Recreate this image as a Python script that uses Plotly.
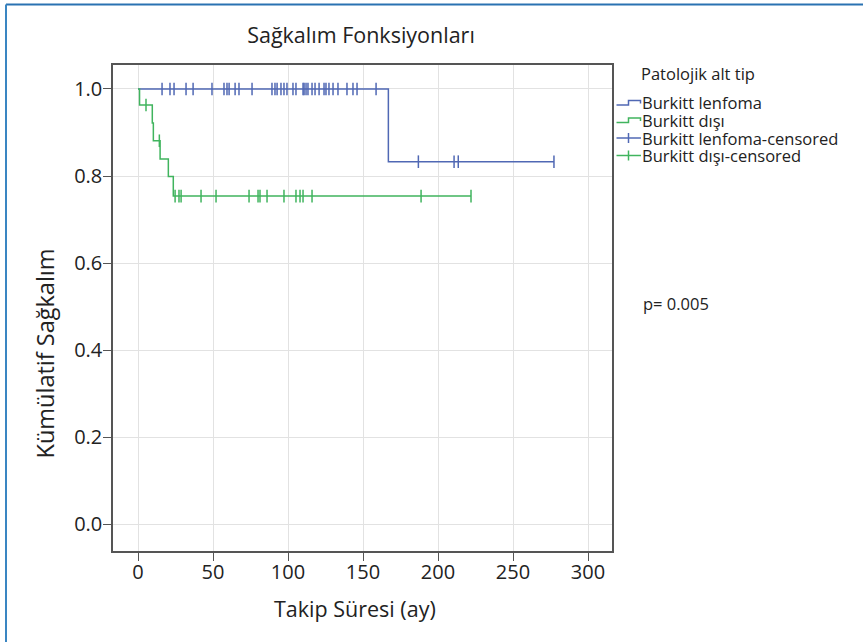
import plotly.graph_objects as go

# ---- data ----
blue_step_t = [0, 166.9, 277.3]
blue_step_s = [1.0, 0.833, 0.833]
blue_cens_t = [16, 21.3, 24, 32, 36.7, 49.3, 57.3, 59.3, 60.7, 64.7, 67.3, 76,
               89.3, 91.3, 92.7, 95.3, 97.3, 99.3, 103.3, 105.3, 110, 110.7, 112,
               113.3, 116, 118, 120.7, 124, 125.3, 127.3, 130, 133.3, 139.3,
               143.3, 146, 158.7, 186.9, 210.7, 213.5, 277.3]
blue_cens_s = [1.0] * 36 + [0.833] * 4

green_step_t = [0, 1.0, 9.5, 10.2, 14.7, 20.2, 23.5, 222]
green_step_s = [1.0, 0.963, 0.922, 0.881, 0.839, 0.799, 0.754, 0.754]
green_cens_t = [5.3, 14.2, 24.7, 27.3, 28.7, 42, 52, 74, 80, 81.3, 86, 97.3,
                105.3, 108, 110, 116, 188.7, 222]
green_cens_s = [0.963, 0.881] + [0.754] * 16

x_ticks = [0, 50, 100, 150, 200, 250, 300]
y_ticks = [0.0, 0.2, 0.4, 0.6, 0.8, 1.0]
y_tick_labels = ["0.0", "0.2", "0.4", "0.6", "0.8", "1.0"]

legend_title = "Patolojik alt tip"
legend_names = ["Burkitt lenfoma", "Burkitt dışı",
                "Burkitt lenfoma-censored", "Burkitt dışı-censored"]

BLUE = "#5068b4"
GREEN = "#40b45e"
FONT = "Open Sans"
TXT = "#222222"

fig = go.Figure()
fig.add_trace(go.Scatter(x=blue_step_t, y=blue_step_s, mode="lines",
                         line=dict(color=BLUE, width=1.5, shape="hv"),
                         name=legend_names[0], showlegend=False))
fig.add_trace(go.Scatter(x=green_step_t, y=green_step_s, mode="lines",
                         line=dict(color=GREEN, width=1.5, shape="hv"),
                         name=legend_names[1], showlegend=False))
fig.add_trace(go.Scatter(x=blue_cens_t, y=blue_cens_s, mode="markers",
                         marker=dict(symbol="line-ns-open", size=9, color=BLUE,
                                     line=dict(color=BLUE, width=1.5)),
                         name=legend_names[2], showlegend=False))
fig.add_trace(go.Scatter(x=green_cens_t, y=green_cens_s, mode="markers",
                         marker=dict(symbol="line-ns-open", size=9, color=GREEN,
                                     line=dict(color=GREEN, width=1.5)),
                         name=legend_names[3], showlegend=False))

L, R, T, B = 113, 251, 65, 91
W, H = 863, 642
pw, ph = W - L - R, H - T - B

def px(x):
    return (x - L) / pw

def py(y):
    return (H - B - y) / ph

fig.update_layout(
    width=W, height=H,
    margin=dict(l=L, r=R, t=T, b=B),
    paper_bgcolor="white", plot_bgcolor="white",
    font=dict(family=FONT, color=TXT),
    title=dict(text="Sağkalım Fonksiyonları", font=dict(size=21.5, color=TXT),
               xref="paper", yref="container", x=px(361), y=1 - 35 / H,
               xanchor="center", yanchor="middle"),
    showlegend=False,
    xaxis=dict(range=[-16.7, 316], tickmode="array", tickvals=x_ticks,
               ticks="outside", ticklen=8, tickwidth=1.2, tickcolor="#555",
               ticklabelstandoff=-6,
               showgrid=True, gridcolor="#e2e2e2", gridwidth=1,
               showline=True, linecolor="#555", linewidth=1.5, mirror=True,
               zeroline=False, tickfont=dict(size=20, color=TXT)),
    yaxis=dict(range=[-0.061, 1.055], tickmode="array", tickvals=y_ticks,
               ticktext=y_tick_labels,
               ticks="outside", ticklen=8, tickwidth=1.2, tickcolor="#555",
               ticklabelstandoff=-3,
               showgrid=True, gridcolor="#e2e2e2", gridwidth=1,
               showline=True, linecolor="#555", linewidth=1.5, mirror=True,
               zeroline=False, tickfont=dict(size=20, color=TXT)),
)

fig.add_annotation(text="Kümülatif Sağkalım", xref="paper", yref="paper",
                   x=px(44.5), y=py(354), textangle=-90, showarrow=False,
                   font=dict(size=23.5, color=TXT), xanchor="center", yanchor="middle")
fig.add_annotation(text="Takip Süresi (ay)", xref="paper", yref="paper",
                   x=px(355), y=py(608), showarrow=False,
                   font=dict(size=21.5, color=TXT), xanchor="center", yanchor="middle")
fig.add_annotation(text="p= 0.005", xref="paper", yref="paper",
                   x=px(641), y=py(303), showarrow=False,
                   font=dict(size=16.5, color=TXT), xanchor="left", yanchor="middle")

# ---- hand-drawn legend (SPSS style glyphs) ----
fig.add_annotation(text=legend_title, xref="paper", yref="paper",
                   x=px(639), y=py(74), showarrow=False,
                   font=dict(size=16.5, color=TXT), xanchor="left", yanchor="middle")
row_y = [103, 120.5, 138, 155.5]
row_col = [BLUE, GREEN, BLUE, GREEN]
for i, (name, ry, col) in enumerate(zip(legend_names, row_y, row_col)):
    fig.add_annotation(text=name, xref="paper", yref="paper",
                       x=px(639.5), y=py(ry), showarrow=False,
                       font=dict(size=16.5, color=TXT), xanchor="left", yanchor="middle")
    if i < 2:
        path = (f"M {px(616.5)} {py(ry + 2)} L {px(628.5)} {py(ry + 2)} "
                f"L {px(628.5)} {py(ry - 2.5)} L {px(640.5)} {py(ry - 2.5)} "
                f"L {px(640.5)} {py(ry + 0.5)}")
        fig.add_shape(type="path", xref="paper", yref="paper", path=path,
                      line=dict(color=col, width=1.5))
    else:
        fig.add_shape(type="line", xref="paper", yref="paper",
                      x0=px(616.5), x1=px(641), y0=py(ry), y1=py(ry),
                      line=dict(color=col, width=1.5))
        fig.add_shape(type="line", xref="paper", yref="paper",
                      x0=px(628.5), x1=px(628.5), y0=py(ry - 5), y1=py(ry + 5),
                      line=dict(color=col, width=1.5))

# outer blue frame (top and left edges)
fig.add_shape(type="line", xref="paper", yref="paper",
              x0=px(6), x1=px(863), y0=py(4.5), y1=py(4.5),
              line=dict(color="#2a72b2", width=2))
fig.add_shape(type="line", xref="paper", yref="paper",
              x0=px(6), x1=px(6), y0=py(4.5), y1=py(642),
              line=dict(color="#3a86c2", width=2))

fig.write_html("out.html")
